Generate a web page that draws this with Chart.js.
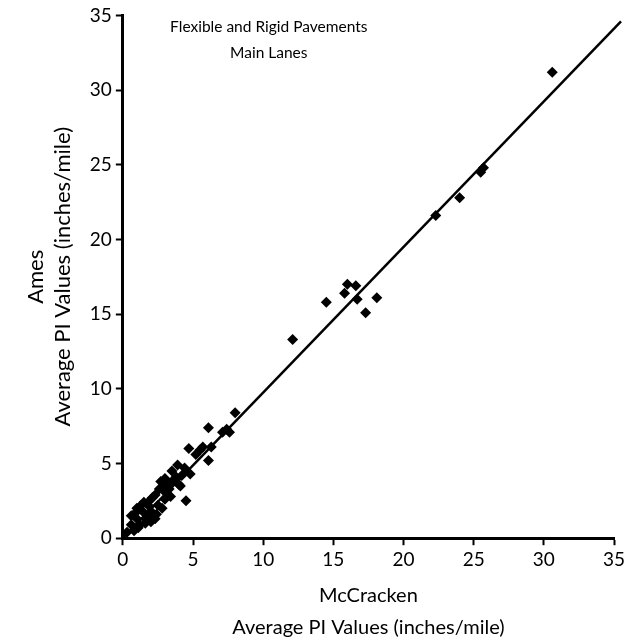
<!DOCTYPE html>
<html>
<head>
<meta charset="utf-8">
<script src="https://cdn.jsdelivr.net/npm/chart.js@4.4.1/dist/chart.umd.min.js"></script>
<style>
  body { margin: 0; background: #fff; }
  #wrap { width: 642px; height: 644px; }
</style>
</head>
<body>
<div id="wrap"><canvas id="chart"></canvas></div>
<script>
// McCracken (x) vs Ames (y) average PI values, inches/mile
const mcCracken = [
  30.6, 25.7, 25.5, 24.0, 22.3,
  12.1, 14.5, 16.0, 16.6, 15.8, 16.7, 18.1, 17.3,
  8.0, 6.1, 7.4, 7.6, 7.1, 4.7, 5.7, 6.3, 6.1, 4.5,
  0.3, 0.6, 1.0, 1.4, 1.8, 1.0, 2.3, 2.0, 2.7, 3.0, 3.2, 3.8, 1.5, 2.5, 1.8, 0.6,
  3.9, 3.5, 4.4, 4.8, 3.0, 3.3, 4.0, 2.3, 3.0, 5.2, 5.5, 1.2, 1.6, 2.1, 2.6, 3.6,
  4.2, 0.8, 1.3, 2.0, 2.8, 1.6, 0.9, 1.1, 2.4, 3.4, 4.1, 1.9, 2.9
];
const ames = [
  31.2, 24.8, 24.5, 22.8, 21.6,
  13.3, 15.8, 17.0, 16.9, 16.4, 16.0, 16.1, 15.1,
  8.4, 7.4, 7.3, 7.1, 7.1, 6.0, 6.1, 6.1, 5.2, 2.5,
  0.4, 0.9, 1.3, 1.8, 2.2, 2.0, 1.3, 1.1, 3.8, 3.1, 3.6, 4.1, 2.4, 2.2, 1.5, 1.5,
  4.9, 4.5, 4.7, 4.3, 4.0, 3.3, 3.6, 2.9, 2.6, 5.6, 5.9, 0.9, 1.0, 2.7, 3.3, 3.9,
  4.2, 0.5, 2.2, 1.8, 2.0, 1.3, 1.7, 0.7, 1.6, 2.8, 3.5, 2.5, 3.5
];
// fitted line end points
const fitX = [0, 35.5];
const fitY = [0, 34.6];
const tickValues = [0, 5, 10, 15, 20, 25, 30, 35];
const titleLines = ["Flexible and Rigid Pavements", "Main Lanes"];

const points = mcCracken.map((x, i) => ({ x: x, y: ames[i] }));
const fitLine = fitX.map((x, i) => ({ x: x, y: fitY[i] }));

// note text inside the plot, placed by data values
const notePlugin = {
  id: "note",
  afterDatasetsDraw(chart) {
    const ctx = chart.ctx;
    const sx = chart.scales.x, sy = chart.scales.y;
    ctx.save();
    ctx.fillStyle = "#000";
    ctx.font = "15.5px Lato";
    ctx.textAlign = "center";
    ctx.textBaseline = "middle";
    ctx.fillText(titleLines[0], sx.getPixelForValue(10.4), sy.getPixelForValue(34.2));
    ctx.fillText(titleLines[1], sx.getPixelForValue(10.4), sy.getPixelForValue(32.45));
    ctx.restore();
  }
};

const axisCommon = {
  type: "linear",
  min: 0,
  max: 35,
  afterBuildTicks: (scale) => { scale.ticks = tickValues.map(v => ({ value: v })); },
  grid: { drawOnChartArea: false, drawTicks: true, tickLength: 7, tickColor: "#000", tickWidth: 2 },
  border: { display: true, color: "#000", width: 3 }
};

new Chart(document.getElementById("chart"), {
  type: "scatter",
  data: {
    datasets: [
      {
        label: "fit",
        type: "line",
        data: fitLine,
        borderColor: "#000",
        borderWidth: 2.5,
        pointRadius: 0,
        fill: false,
        clip: false
      },
      {
        label: "sections",
        data: points,
        backgroundColor: "#000",
        borderColor: "#000",
        pointStyle: "rectRot",
        pointRadius: 5.5,
        pointBorderWidth: 0
      }
    ]
  },
  options: {
    responsive: true,
    maintainAspectRatio: false,
    animation: false,
    layout: { padding: { left: 23, right: 28, top: 8, bottom: 0 } },
    plugins: {
      legend: { display: false },
      tooltip: { enabled: false }
    },
    scales: {
      x: Object.assign({}, axisCommon, {
        ticks: { color: "#000", font: { family: "Lato", size: 19 }, padding: 3, maxRotation: 0 },
        title: {
          display: true,
          text: ["McCracken", "Average PI Values (inches/mile)"],
          color: "#000",
          font: { family: "Lato", size: 20, lineHeight: 1.6 },
          padding: { top: 6, bottom: 0 }
        }
      }),
      y: Object.assign({}, axisCommon, {
        ticks: { color: "#000", font: { family: "Lato", size: 19 }, padding: 4 },
        title: {
          display: true,
          text: ["Ames", "Average PI Values (inches/mile)"],
          color: "#000",
          font: { family: "Lato", size: 22, lineHeight: 1.2 },
          padding: { top: 0, bottom: 10 }
        }
      })
    }
  },
  plugins: [notePlugin]
});
</script>
</body>
</html>
